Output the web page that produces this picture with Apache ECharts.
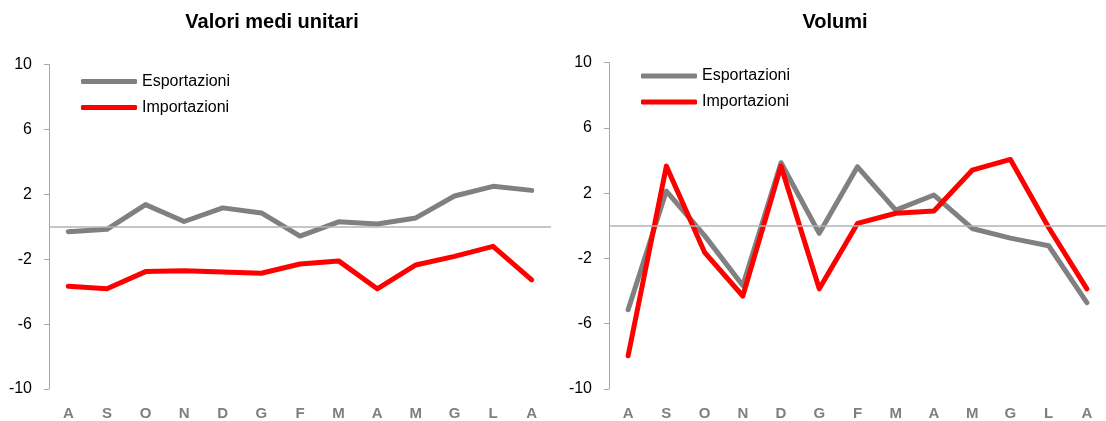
<!DOCTYPE html>
<html>
<head>
<meta charset="utf-8">
<script src="https://cdn.jsdelivr.net/npm/echarts@6/dist/echarts.min.js"></script>
<style>
html,body{margin:0;padding:0;background:#fff;}
#c{width:1106px;height:421px;}
</style>
</head>
<body>
<div id="c"></div>
<script>
const categories = ['A','S','O','N','D','G','F','M','A','M','G','L','A'];
const yTicks = { min: -10, max: 10, interval: 4 };
const leftTitle = 'Valori medi unitari';
const rightTitle = 'Volumi';
const seriesNames = ['Esportazioni', 'Importazioni'];

const valoriEsport = [-0.3, -0.15, 1.37, 0.33, 1.17, 0.86, -0.57, 0.31, 0.17, 0.55, 1.9, 2.5, 2.25];
const valoriImport = [-3.66, -3.82, -2.76, -2.7, -2.78, -2.86, -2.29, -2.1, -3.82, -2.35, -1.82, -1.2, -3.27];
const volumiEsport = [-5.14, 2.13, -0.6, -3.66, 3.87, -0.46, 3.62, 0.96, 1.89, -0.16, -0.75, -1.22, -4.71];
const volumiImport = [-7.96, 3.66, -1.62, -4.3, 3.66, -3.86, 0.15, 0.77, 0.91, 3.41, 4.07, -0.1, -3.86];

const FONT = '"Liberation Sans", Arial, sans-serif';
const GRAY = '#808080';
const RED = '#ff0000';

function yAxis(idx) {
  return {
    type: 'value', gridIndex: idx,
    min: yTicks.min, max: yTicks.max, interval: yTicks.interval,
    axisLine: { show: true, lineStyle: { color: '#a6a6a6', width: 1 } },
    axisTick: { show: true, length: 5, lineStyle: { color: '#a6a6a6' } },
    splitLine: { show: false },
    axisLabel: { color: '#000', fontSize: 16, fontFamily: FONT, margin: 17 }
  };
}
function xAxis(idx) {
  return {
    type: 'category', gridIndex: idx, data: categories, boundaryGap: true,
    axisLine: { show: false }, axisTick: { show: false },
    axisLabel: { color: '#7f7f7f', fontSize: 15, fontWeight: 'bold', fontFamily: FONT, margin: 17, interval: 0 }
  };
}
function line(name, data, color, idx, zero) {
  const s = {
    name: name, type: 'line', xAxisIndex: idx, yAxisIndex: idx, data: data,
    symbol: 'none', lineStyle: { color: color, width: 5, cap: 'round', join: 'round' },
    itemStyle: { color: color }, animation: false
  };
  if (zero) {
    s.markLine = {
      silent: true, symbol: ['none', 'none'], animation: false,
      label: { show: false },
      lineStyle: { color: '#b3b3b3', width: 1.5, type: 'solid' },
      data: [{ yAxis: 0 }]
    };
  }
  return s;
}
function legend(left, top) {
  return {
    orient: 'vertical', left: left, top: top, data: seriesNames, padding: 0,
    icon: 'roundRect', itemWidth: 56, itemHeight: 5, itemGap: 8, itemTextGap: 5,
    textStyle: { color: '#000', fontSize: 16, fontFamily: FONT, lineHeight: 18 },
    selectedMode: false
  };
}

const chart = echarts.init(document.getElementById('c'));
chart.setOption({
  animation: false,
  backgroundColor: '#fff',
  title: [
    { text: leftTitle, left: 272, top: 12, textAlign: 'center', padding: 0,
      textStyle: { fontSize: 20, fontWeight: 'bold', color: '#000', fontFamily: FONT } },
    { text: rightTitle, left: 835, top: 12, textAlign: 'center', padding: 0,
      textStyle: { fontSize: 20, fontWeight: 'bold', color: '#000', fontFamily: FONT } }
  ],
  legend: [legend(81, 72.5), legend(641, 67)],
  grid: [
    { left: 49, top: 64.7, width: 502, height: 326.3 },
    { left: 609, top: 62.7, width: 505.7, height: 328.3 }
  ],
  xAxis: [xAxis(0), xAxis(1)],
  yAxis: [yAxis(0), yAxis(1)],
  series: [
    line(seriesNames[0], valoriEsport, GRAY, 0, true),
    line(seriesNames[1], valoriImport, RED, 0, false),
    line(seriesNames[0], volumiEsport, GRAY, 1, true),
    line(seriesNames[1], volumiImport, RED, 1, false)
  ]
});
</script>
</body>
</html>
